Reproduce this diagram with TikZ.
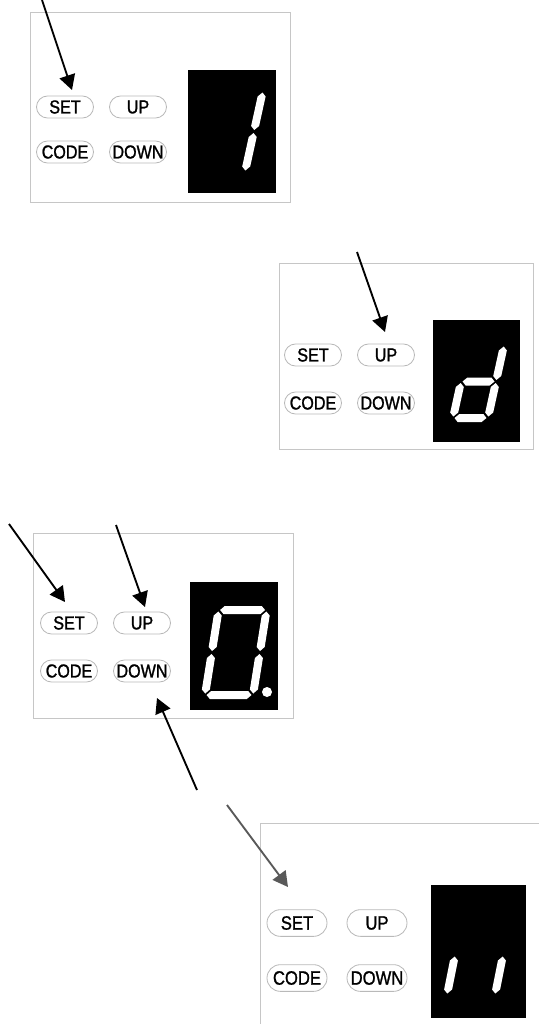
\documentclass[tikz,border=0pt]{standalone}
\usepackage{fontspec}
\setmainfont{Liberation Sans}
\newfontfamily\keyfont[FakeStretch=0.86,FakeBold=1.2]{Liberation Sans}
\usetikzlibrary{arrows.meta,shapes.misc}

% one segment of a seven segment digit, in the digit's own frame (y up)
\newcommand{\hseg}[3]{\fill[segment] (#1+1.5,#3) -- (#1+5.5,#3+4) -- (#2-5.5,#3+4) -- (#2-1.5,#3) -- (#2-5.5,#3-4) -- (#1+5.5,#3-4) -- cycle;}
\newcommand{\vseg}[3]{\fill[segment] (#1,#2+1.5) -- (#1+4,#2+5.5) -- (#1+4,#3-5.5) -- (#1,#3-1.5) -- (#1-4,#3-5.5) -- (#1-4,#2+5.5) -- cycle;}

\tikzset{
  panel/.style={draw=gray!45,line width=0.8pt},
  btn/.style={rounded rectangle,draw=gray!55,line width=0.7pt,minimum width=1.71cm,minimum height=0.66cm,inner sep=0pt,font=\keyfont\fontsize{16}{16}\selectfont},
  btnbig/.style={btn,minimum width=1.8cm,minimum height=0.8cm,font=\keyfont\fontsize{16.5}{16.5}\selectfont},
  display/.style={fill=black},
  segment/.style={fill=white},
  push/.style={-{Triangle[length=0.45cm,width=0.48cm]},line width=1.6pt},
}

\begin{document}
\begin{tikzpicture}[x=0.03cm,y=-0.03cm]
\useasboundingbox (0,0) rectangle (539,1024);
\clip (0,0) rectangle (539,1024);

% panel 1: digit 1
\draw[panel] (30,12) rectangle (290,202);
\node[btn] (set1) at (65,107) {SET};
\node[btn] (up1) at (138,107) {UP};
\node[btn] (code1) at (65,152) {CODE};
\node[btn] (down1) at (138,152) {DOWN};
\fill[display] (188,70) rectangle (276,193);
\begin{scope}[shift={(200,172)},xslant=0.22,yscale=-1]
  \vseg{45}{0}{40.5}
  \vseg{45}{40.5}{81}
\end{scope}
\coordinate (a1) at (42,0);
\coordinate (t1) at (72,90);
\draw[push] (a1) -- (t1);

% panel 2: letter d
\draw[panel] (279,263) rectangle (533,449);
\node[btn] (set2) at (313,355) {SET};
\node[btn] (up2) at (386,355) {UP};
\node[btn] (code2) at (313,403) {CODE};
\node[btn] (down2) at (386,403) {DOWN};
\fill[display] (433,320) rectangle (520,442);
\begin{scope}[shift={(453,418)},xslant=0.22,yscale=-1]
  \vseg{35}{36.5}{73}
  \vseg{35}{0}{36.5}
  \hseg{0}{35}{0}
  \vseg{0}{0}{36.5}
  \hseg{0}{35}{36.5}
\end{scope}
\coordinate (a2) at (357,252);
\coordinate (t2) at (385,332);
\draw[push] (a2) -- (t2);

% panel 3: 0 with point
\draw[panel] (33,533) rectangle (293,718);
\node[btn] (set3) at (69,623) {SET};
\node[btn] (up3) at (142,623) {UP};
\node[btn] (code3) at (69,671) {CODE};
\node[btn] (down3) at (142,671) {DOWN};
\fill[display] (190,582) rectangle (278,710);
\begin{scope}[shift={(205,695)},xslant=0.16,yscale=-1]
  \hseg{0}{48}{85}
  \vseg{48}{42.5}{85}
  \vseg{48}{0}{42.5}
  \hseg{0}{48}{0}
  \vseg{0}{0}{42.5}
  \vseg{0}{42.5}{85}
\end{scope}
\fill[segment] (267,692) circle (5);
\coordinate (a3) at (9,524);
\coordinate (t3) at (65,602);
\draw[push] (a3) -- (t3);
\coordinate (b3) at (116,525);
\coordinate (u3) at (145,607);
\draw[push] (b3) -- (u3);
\coordinate (c3) at (197,790);
\coordinate (v3) at (157,698);
\draw[push] (c3) -- (v3);

% panel 4: two lower segments
\draw[panel] (560,823) -- (260,823) -- (260,1040);
\node[btnbig] (set4) at (297,923) {SET};
\node[btnbig] (up4) at (377,923) {UP};
\node[btnbig] (code4) at (297,978) {CODE};
\node[btnbig] (down4) at (377,978) {DOWN};
\fill[display] (431,885) rectangle (526,1018);
\begin{scope}[shift={(447,995)},xslant=0.2,yscale=-1]
  \vseg{48}{0}{40}
  \vseg{0}{0}{40}
\end{scope}
\coordinate (a4) at (227,805);
\coordinate (t4) at (288,887);
\draw[push,gray!70!black] (a4) -- (t4);
\end{tikzpicture}
\end{document}
